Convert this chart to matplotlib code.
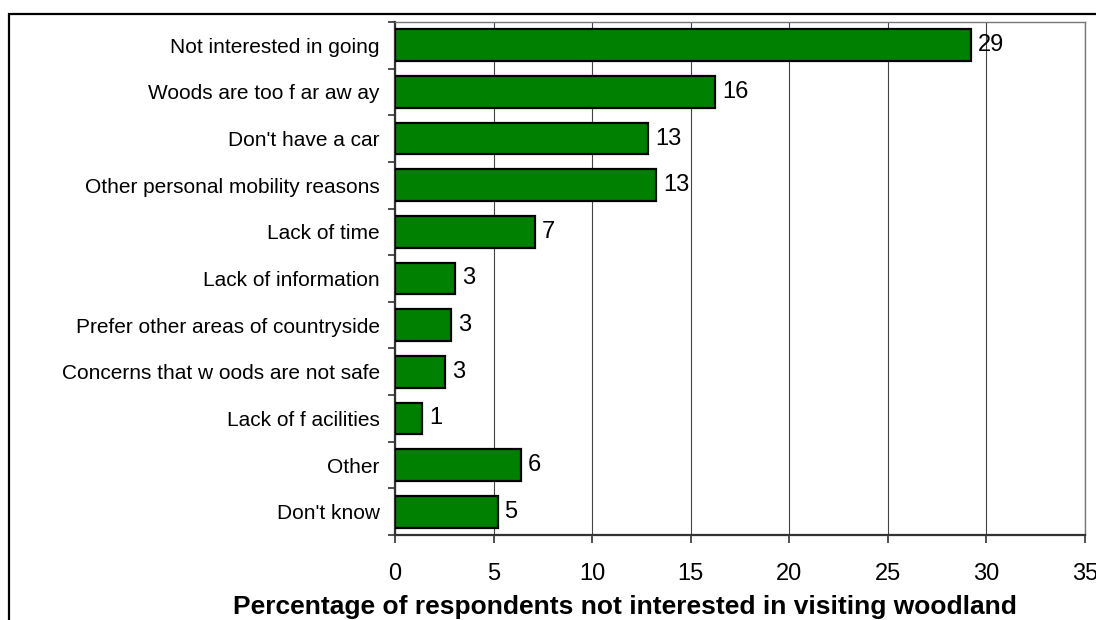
"""Razones para no visitar bosques: barras horizontales con etiqueta de valor."""

import matplotlib

matplotlib.use("Agg")
import matplotlib.pyplot as plt  # noqa: E402
from matplotlib.patches import Rectangle  # noqa: E402

plt.rcParams["font.family"] = ["Liberation Sans", "DejaVu Sans"]

REASONS = [
    "Not interested in going",
    "Woods are too f ar aw ay",
    "Don't have a car",
    "Other personal mobility reasons",
    "Lack of time",
    "Lack of information",
    "Prefer other areas of countryside",
    "Concerns that w oods are not safe",
    "Lack of f acilities",
    "Other",
    "Don't know",
]
PERCENT = [29.2, 16.25, 12.85, 13.25, 7.1, 3.05, 2.85, 2.55, 1.37, 6.4, 5.2]
XTICKS = [0, 5, 10, 15, 20, 25, 30, 35]
XLABEL = "Percentage of respondents not interested in visiting woodland"

W, H = 1096, 620
fig = plt.figure(figsize=(W / 100, H / 100), dpi=100)
ax = fig.add_axes([395 / W, 1 - 535 / H, 690 / W, 513 / H])

n = len(REASONS)
y = list(range(n))
ax.barh(y, PERCENT, height=0.68, color="#008000", edgecolor="black",
        linewidth=1.6, zorder=3)
for yi, v in zip(y, PERCENT):
    ax.text(v + 0.35, yi, f"{v:.0f}", va="center", ha="left", fontsize=17,
            zorder=4)

ax.set_xlim(0, 35)
ax.set_ylim(n - 0.5, -0.5)
ax.set_xticks(XTICKS)
ax.set_xticklabels([str(t) for t in XTICKS], fontsize=17)
ax.tick_params(axis="x", direction="out", length=6, width=1.2, pad=14,
               color="#333333")
ax.xaxis.grid(True, color="#444444", linewidth=0.8, zorder=0)

# etiquetas centradas en cada barra, marcas de tick entre categorías
ax.set_yticks(y)
ax.set_yticklabels(REASONS, fontsize=15)
ax.tick_params(axis="y", which="major", length=0, pad=11)
ax.set_yticks([i - 0.5 for i in range(n + 1)], minor=True)
ax.tick_params(axis="y", which="minor", direction="out", length=5,
               width=1.2, color="#333333")

for side in ("left", "bottom"):
    ax.spines[side].set_color("#333333")
    ax.spines[side].set_linewidth(1.6)
for side in ("top", "right"):
    ax.spines[side].set_color("#777777")
    ax.spines[side].set_linewidth(1.0)

fig.text(233 / W, 1 - 614 / H, XLABEL, fontsize=19, fontweight="bold",
         ha="left", va="baseline")

# marco exterior del gráfico
fig.add_artist(Rectangle((9 / W, -0.1), 1.2, 1.1 - 14 / H,
                         transform=fig.transFigure, fill=False,
                         edgecolor="black", linewidth=1.6, clip_on=False))

fig.savefig("out.png", dpi=100)
